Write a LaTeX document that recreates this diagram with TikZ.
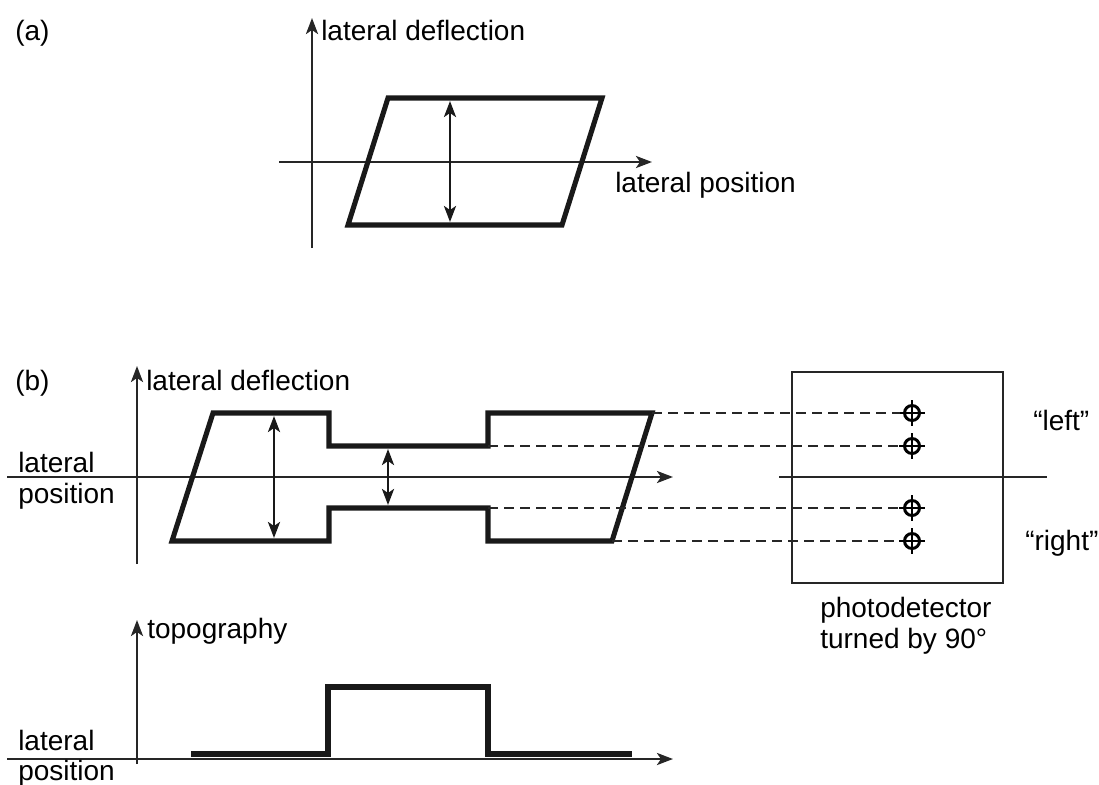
\documentclass[tikz,border=0pt]{standalone}
\usepackage{fontspec}
\setmainfont{Liberation Sans}
\usetikzlibrary{arrows.meta}
\begin{document}
\begin{tikzpicture}[x=0.75pt,y=-0.75pt,
  axis/.style={line width=2pt,draw=black!85},
  axarrow/.style={axis,-{Stealth[length=12pt,width=9pt,inset=3pt]}},
  curve/.style={line width=3.8pt,line join=miter,draw=black!90},
  dbl/.style={line width=2pt,draw=black!90,{Stealth[length=12pt,width=9pt,inset=3pt]}-{Stealth[length=12pt,width=9pt,inset=3pt]}},
  proj/.style={line width=2.2pt,draw=black!85,dash pattern=on 7.5pt off 4.5pt},
  lbl/.style={font=\fontsize{21}{25}\selectfont,inner sep=0pt,anchor=base west},
  crosshair/.pic={\draw[line width=2.2pt] (0,0) circle (7.5);
                  \draw[line width=2.2pt] (-13,0)--(13,0) (0,-13)--(0,13);}]
\useasboundingbox (0,0) rectangle (1099,785);

% ---------------- (a) ----------------
\node[lbl] (la) at (15,40) {(a)};
\coordinate (ay0) at (312,248); \coordinate (ay1) at (312,18);
\coordinate (ax0) at (279,162); \coordinate (ax1) at (652,162);
\draw[axarrow] (ay0) -- (ay1);
\draw[axarrow] (ax0) -- (ax1);
\node[lbl] (ald) at (321,40) {lateral deflection};
\node[lbl] (alp) at (615,192) {lateral position};
\coordinate (a1) at (388,98); \coordinate (a2) at (602,98);
\coordinate (a3) at (562,225); \coordinate (a4) at (348,225);
\draw[curve] (a1)--(a2)--(a3)--(a4)--cycle;
\coordinate (ad1) at (450,101); \coordinate (ad2) at (450,222);
\draw[dbl] (ad1) -- (ad2);

% ---------------- (b) ----------------
\node[lbl] (lb) at (15,390) {(b)};
\coordinate (by0) at (137,564); \coordinate (by1) at (137,366);
\coordinate (bx0) at (7,477); \coordinate (bx1) at (673,477);
\draw[axarrow] (by0) -- (by1);
\draw[axarrow] (bx0) -- (bx1);
\node[lbl] (bld) at (146,390) {lateral deflection};
\node[lbl] (blat) at (18,472) {lateral};
\node[lbl] (bpos) at (18,503) {position};

\coordinate (b1) at (213,413); \coordinate (b2) at (329,413);
\coordinate (b3) at (329,446); \coordinate (b4) at (488,446);
\coordinate (b5) at (488,413); \coordinate (b6) at (652,413);
\coordinate (b7) at (612,541); \coordinate (b8) at (488,541);
\coordinate (b9) at (488,508); \coordinate (b10) at (329,508);
\coordinate (b11) at (329,541); \coordinate (b12) at (172,541);
\draw[curve] (b1)--(b2)--(b3)--(b4)--(b5)--(b6)--(b7)--(b8)--(b9)--(b10)--(b11)--(b12)--cycle;
\coordinate (bd1) at (274,416); \coordinate (bd2) at (274,538);
\draw[dbl] (bd1) -- (bd2);
\coordinate (bd3) at (388,449); \coordinate (bd4) at (388,505);
\draw[dbl] (bd3) -- (bd4);

% photodetector
\node[draw=black!85,line width=1.8pt,minimum width=211*0.75pt,minimum height=211*0.75pt,inner sep=0pt] (pd) at (897.5,477.5) {};
\coordinate (ph0) at (779,477); \coordinate (ph1) at (1047,477);
\draw[axis] (ph0) -- (ph1);
\foreach \n/\y in {c1/413,c2/446,c3/508,c4/541}{
  \pic at (912,\y) {crosshair};
  \coordinate (\n) at (900,\y);
}
\draw[proj] (b6) -- (c1);
\draw[proj] (b4) -- (c2);
\draw[proj] (b9) -- (c3);
\draw[proj] (b7) -- (c4);
\node[lbl] (lleft) at (1033,430) {“left”};
\node[lbl] (lright) at (1025,550) {“right”};
\node[lbl] (pdl1) at (820,617) {photodetector};
\node[lbl] (pdl2) at (820,648) {turned by 90°};

% ---------------- topography ----------------
\coordinate (ty0) at (137,764); \coordinate (ty1) at (137,620);
\coordinate (tx0) at (7,759); \coordinate (tx1) at (673,759);
\draw[axarrow] (ty0) -- (ty1);
\draw[axarrow] (tx0) -- (tx1);
\node[lbl] (ttop) at (147,638) {topography};
\node[lbl] (tlat) at (18,750) {lateral};
\node[lbl] (tpos) at (18,780) {position};
\coordinate (t1) at (191,754); \coordinate (t2) at (328,754);
\coordinate (t3) at (328,687); \coordinate (t4) at (488,687);
\coordinate (t5) at (488,754); \coordinate (t6) at (632,754);
\draw[curve] (t1)--(t2)--(t3)--(t4)--(t5)--(t6);
\end{tikzpicture}
\end{document}
